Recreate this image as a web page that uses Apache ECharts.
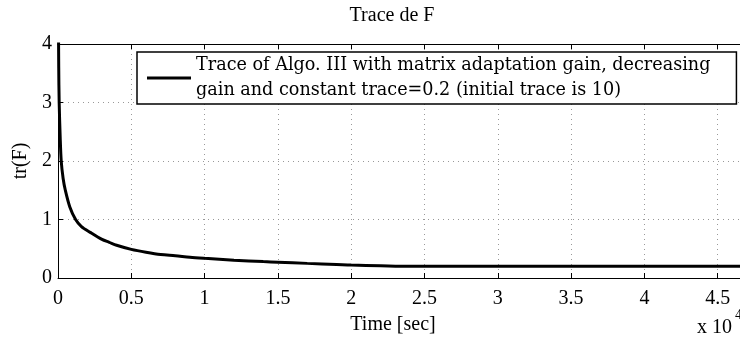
<!DOCTYPE html>
<html>
<head>
<meta charset="utf-8">
<script src="https://cdn.jsdelivr.net/npm/echarts@6/dist/echarts.min.js"></script>
<style>
html,body{margin:0;padding:0;background:#fff;}
#c{width:740px;height:343px;}
</style>
</head>
<body>
<div id="c"></div>
<script>
// Time in seconds
const timeSec = [0, 20, 50, 80, 150, 220, 350, 500, 800, 1200, 1600, 2200, 3000, 3500, 4000, 5000, 6000, 7000, 8000, 9000, 10000, 12000, 14000, 15000, 17000, 19000, 20000, 22000, 24000, 30000, 40000, 46520];
const traceF  = [10, 5.0, 3.6, 3.0, 2.4, 2.0, 1.7, 1.5, 1.22, 1.0, 0.88, 0.78, 0.66, 0.61, 0.56, 0.49, 0.44, 0.40, 0.38, 0.355, 0.337, 0.305, 0.28, 0.27, 0.25, 0.232, 0.222, 0.21, 0.2, 0.2, 0.2, 0.2];
const seriesName = 'Trace of Algo. III with matrix adaptation gain, decreasing\ngain and constant trace=0.2 (initial trace is 10)';
const xMax = 46520;
const xTickLabelScale = 10000;

const FONT = '"Liberation Serif", "DejaVu Serif", serif';
const LFONT = '"DejaVu Serif", serif';
const chart = echarts.init(document.getElementById('c'));
const pts = timeSec.map((t, i) => [t, traceF[i]]);
const gridLine = {show: true, lineStyle: {color: '#999', type: [1, 4], width: 1}};
chart.setOption({
  animation: false,
  backgroundColor: '#fff',
  grid: {left: 58, top: 44, right: 0, height: 234, outerBoundsMode: 'none', containLabel: false},
  legend: {
    left: 137, top: 52, orient: 'vertical',
    borderColor: '#000', borderWidth: 1.5, backgroundColor: '#fff',
    padding: [1, 26, 1, 10],
    icon: 'rect', itemWidth: 44, itemHeight: 3,
    textStyle: {fontFamily: LFONT, fontSize: 17.6, color: '#000', lineHeight: 25},
    data: [{name: seriesName, itemStyle: {color: '#000'}}]
  },
  xAxis: [{
    type: 'value', min: 0, max: xMax, interval: 5000,
    axisLine: {show: true, lineStyle: {color: '#000', width: 1}},
    axisTick: {show: true, inside: true, length: 5, lineStyle: {color: '#000'}},
    axisLabel: {fontFamily: FONT, fontSize: 20, color: '#000', margin: 11,
      formatter: v => (v % 5000 === 0 ? String(v / xTickLabelScale) : '')},
    splitLine: gridLine
  }, {
    type: 'value', position: 'top', min: 0, max: xMax, interval: 5000,
    axisLine: {show: true, lineStyle: {color: '#000', width: 1}},
    axisTick: {show: true, inside: true, length: 5, lineStyle: {color: '#000'}},
    axisLabel: {show: false}, splitLine: {show: false}
  }],
  yAxis: [{
    type: 'value', min: 0, max: 4, interval: 1,
    axisLine: {show: true, lineStyle: {color: '#000', width: 1}},
    axisTick: {show: true, inside: true, length: 5, lineStyle: {color: '#000'}},
    axisLabel: {fontFamily: FONT, fontSize: 20, color: '#000', margin: 6},
    splitLine: gridLine,
    name: 'tr(F)', nameLocation: 'middle', nameGap: 26, nameRotate: 90,
    nameTextStyle: {fontFamily: FONT, fontSize: 20, color: '#000'}
  }],
  graphic: [{
    type: 'text', x: 392, y: 6,
    style: {text: 'Trace de F', font: '20px ' + FONT, fill: '#000', textAlign: 'center'}
  }, {
    type: 'text', x: 393, y: 315,
    style: {text: 'Time [sec]', font: '20px ' + FONT, fill: '#000', textAlign: 'center'}
  }, {
    type: 'text', x: 697, y: 318,
    style: {text: 'x 10', font: '20px ' + FONT, fill: '#000'}
  }, {
    type: 'text', x: 735, y: 308,
    style: {text: '4', font: '14px ' + FONT, fill: '#000'}
  }],
  series: [{
    name: seriesName, type: 'line', data: pts, showSymbol: false, smooth: 0.3,
    clip: true, lineStyle: {color: '#000', width: 3}, itemStyle: {color: '#000'}
  }]
});
</script>
</body>
</html>
